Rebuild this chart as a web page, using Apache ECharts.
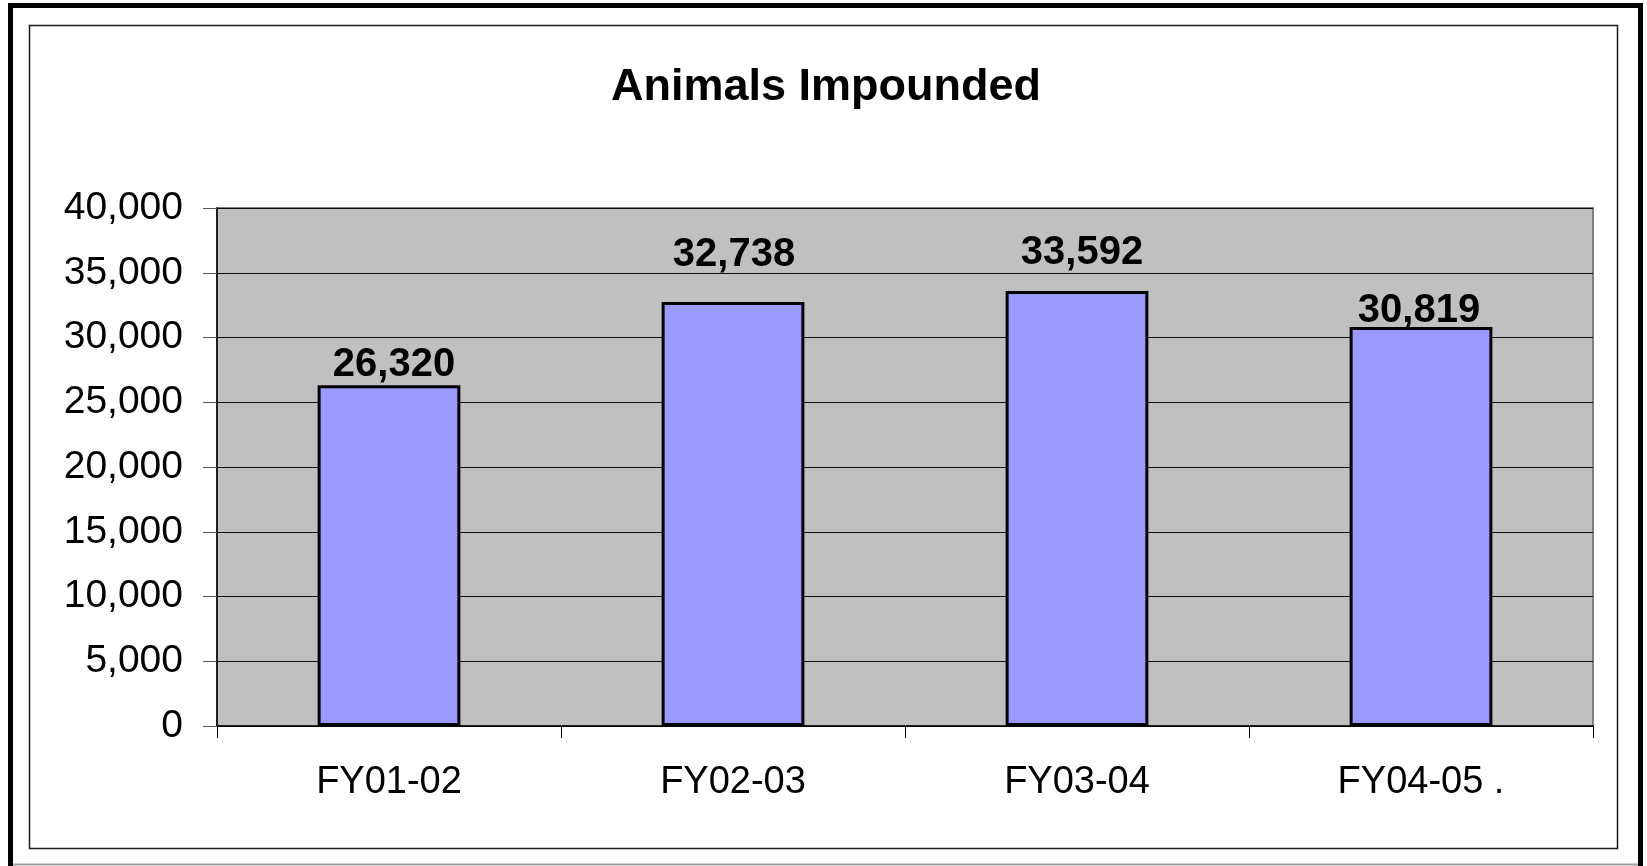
<!DOCTYPE html>
<html>
<head>
<meta charset="utf-8">
<script src="https://cdn.jsdelivr.net/npm/echarts@6/dist/echarts.min.js"></script>
<style>
html,body{margin:0;padding:0;background:#fff;}
#c{width:1647px;height:866px;}
</style>
</head>
<body>
<div id="c"></div>
<script>
const titleText = 'Animals Impounded';
const categories = ['FY01-02', 'FY02-03', 'FY03-04', 'FY04-05 .'];
const impounded = [26320, 32738, 33592, 30819];
const yMin = 0, yMax = 40000, yStep = 5000;
// per-bar label gap (style only), matching the reference's uneven label placement
const labelGaps = [0, 27, 18, -4];
const labelShifts = [5, 1, 5, -2];

const FONT = '"Liberation Sans", Arial, sans-serif';
const chart = echarts.init(document.getElementById('c'), null, {renderer: 'canvas'});
chart.setOption({
  backgroundColor: '#ffffff',
  animation: false,
  title: {
    text: titleText,
    left: 606,
    top: 60,
    textStyle: {fontFamily: FONT, fontSize: 45, fontWeight: 'bold', color: '#000'}
  },
  graphic: [
    {type: 'rect', shape: {x: 10.5, y: 5.5, width: 1630, height: 870},
     style: {fill: null, stroke: '#000', lineWidth: 5}, silent: true},
    {type: 'line', shape: {x1: 13, y1: 864.5, x2: 1638, y2: 864.5},
     style: {stroke: '#a0a0a0', lineWidth: 2}, silent: true},
    {type: 'rect', shape: {x: 29.5, y: 25.5, width: 1588, height: 823},
     style: {fill: null, stroke: '#1a1a1a', lineWidth: 1.5}, silent: true}
  ],
  grid: {
    left: 217, top: 208, right: 54, bottom: 140,
    show: true, backgroundColor: '#c0c0c0', borderColor: '#808080', borderWidth: 2
  },
  xAxis: {
    type: 'category',
    data: categories,
    axisLine: {show: true, lineStyle: {color: '#000', width: 1.5}},
    axisTick: {show: true, length: 12, lineStyle: {color: '#000', width: 1}},
    axisLabel: {fontFamily: FONT, fontSize: 38, color: '#000', margin: 38}
  },
  yAxis: {
    type: 'value',
    min: yMin, max: yMax, interval: yStep,
    axisLine: {show: true, lineStyle: {color: '#000', width: 1.5}},
    axisTick: {show: true, length: 14, lineStyle: {color: '#555', width: 1}},
    splitLine: {show: true, lineStyle: {color: '#111', width: 1}},
    axisLabel: {
      fontFamily: FONT, fontSize: 39, color: '#000', margin: 34,
      formatter: v => v.toLocaleString('en-US')
    }
  },
  series: [{
    type: 'bar',
    data: impounded.map((v, i) => ({value: v, label: {distance: labelGaps[i], offset: [labelShifts[i], 0]}})),
    barCategoryGap: '58.5%',
    itemStyle: {color: '#9999ff', borderColor: '#000', borderWidth: 3},
    label: {
      show: true, position: 'top',
      fontFamily: FONT, fontSize: 40, fontWeight: 'bold', color: '#000',
      formatter: p => p.value.toLocaleString('en-US')
    }
  }]
});
</script>
</body>
</html>
